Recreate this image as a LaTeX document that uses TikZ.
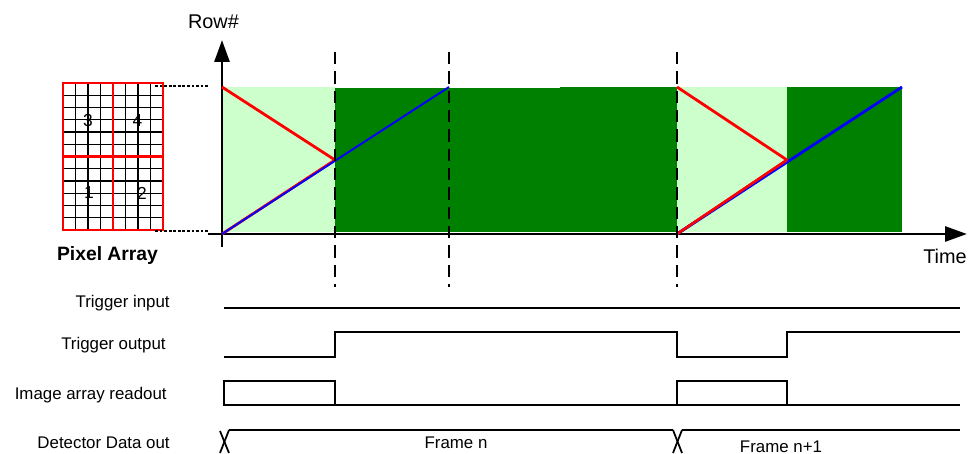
\documentclass[tikz,border=0pt]{standalone}
\usepackage{fontspec}
\setmainfont{Liberation Sans}
\usepackage{tikz}
\usetikzlibrary{arrows.meta, positioning}
\definecolor{litegreen}{HTML}{CCFFCC}
\definecolor{darkgreen}{HTML}{008000}
\tikzstyle{axis} = [line width=1.7pt, -{Triangle[length=12.5pt,width=8.5pt]}]
\tikzstyle{signal} = [line width=1pt, line join=miter]
\tikzstyle{marker} = [line width=1pt, dash pattern=on 7pt off 4pt]
\tikzstyle{guide} = [line width=0.7pt, dash pattern=on 1.6pt off 1pt]
\tikzstyle{readout} = [red, line width=1.6pt]
\tikzstyle{integ} = [blue, line width=1.1pt]
\tikzstyle{cell} = [draw=black, line width=0.6pt]
\tikzstyle{siglabel} = [anchor=base east, inner sep=0pt, font=\fontsize{9.6}{11}\selectfont]
\tikzstyle{axlabel} = [anchor=base, inner sep=0pt, font=\fontsize{11.3}{13}\selectfont]
\tikzstyle{quad} = [inner sep=0pt, font=\fontsize{9.9}{11}\selectfont]

\begin{document}
\begin{tikzpicture}[x=0.02cm, y=-0.02cm]
\useasboundingbox (0,0) rectangle (976,453);

% Exposure / readout regions
\fill[litegreen] (222,87) rectangle (335,232);
\fill[darkgreen] (335,88) rectangle (560,232);
\fill[darkgreen] (560,87) rectangle (677,232);
\fill[litegreen] (677,87) rectangle (787,232);
\fill[darkgreen] (787,87) rectangle (902,232);

% Pixel array
\foreach \gx in {75.5,88,100.5,125.5,138,150.5}
  \draw[cell] (\gx,83) -- (\gx,230);
\foreach \gy in {95.25,107.5,119.75,132,144.25,168.75,181,193.25,205.5,217.75}
  \draw[cell] (63,\gy) -- (163,\gy);
\draw[red, line width=1.7pt] (63,83) rectangle (163,230);
\draw[red, line width=1.7pt] (113,83) -- (113,230);
\draw[red, line width=1.7pt] (63,156.5) -- (163,156.5);
\node[quad] (q3) at (88,121) {3};
\node[quad] (q4) at (137.5,121) {4};
\node[quad] (q1) at (89,193) {1};
\node[quad] (q2) at (142,193) {2};
\node[anchor=base, inner sep=0pt, font=\fontsize{11}{13}\selectfont\bfseries] (pixarr) at (107.5,260) {Pixel Array};

% Guides from array to axis
\draw[guide] (155,86) -- (208,86);
\draw[guide] (155,231) -- (208,231);

% Axes
\coordinate (origin) at (222,234);
\draw[axis] (222,247) -- (222,40);
\draw[axis] (208,234) -- (967,234);
\node[axlabel] (rowlbl) at (213.5,29) {Row\#};
\node[axlabel] (timelbl) at (945,263) {Time};

% Readout and integration lines
\draw[readout] (222,87) -- (335,160) -- (222,234);
\draw[integ] (222,234) -- (449,87);
\draw[readout] (677,87) -- (787,160) -- (677,234);
\draw[integ, line width=1.6pt] (677,234) -- (902,87);
\draw[readout, line width=1.4pt] (677,234) -- (787,160);

% Frame markers
\draw[marker] (335,52) -- (335,287);
\draw[marker] (449,52) -- (449,287);
\draw[marker] (677,52) -- (677,287);

% Signal labels
\node[siglabel] (tin) at (170,307) {Trigger input};
\node[siglabel] (tout) at (166,349) {Trigger output};
\node[siglabel] (iar) at (167,399) {Image array readout};
\node[siglabel] (ddo) at (170,448) {Detector Data out};

% Waveforms
\draw[signal] (224,308) -- (960,308);
\draw[signal] (224,357) -- (335,357) -- (335,332) -- (677,332) -- (677,357)
  -- (787,357) -- (787,332) -- (960,332);
\draw[signal] (224,405) -- (960,405);
\draw[signal] (224,405) rectangle (335,381);
\draw[signal] (677,405) rectangle (787,381);
\draw[signal] (220,431) -- (229,453);
\draw[signal] (229,430) -- (220,453);
\draw[signal] (229,430) -- (673,430);
\draw[signal] (673,430) -- (682,453);
\draw[signal] (682,430) -- (673,453);
\draw[signal] (682,430) -- (960,430);
\node[anchor=base, inner sep=0pt, font=\fontsize{9.6}{11}\selectfont] (fn) at (456,448) {Frame n};
\node[anchor=base, inner sep=0pt, font=\fontsize{9.6}{11}\selectfont] (fn1) at (781,452) {Frame n+1};

\end{tikzpicture}
\end{document}
